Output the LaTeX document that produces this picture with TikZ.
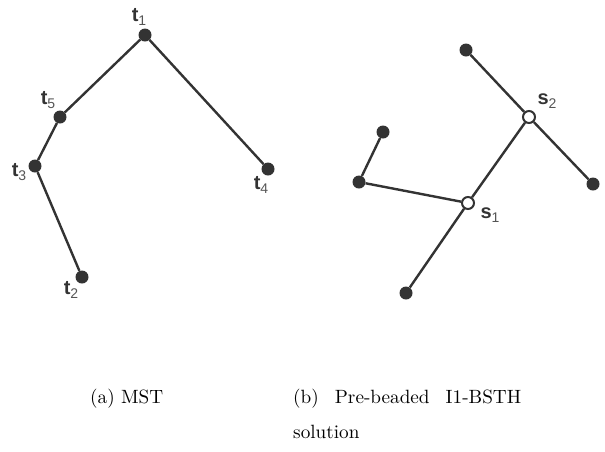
\documentclass[tikz,border=0pt]{standalone}
\usepackage{fontspec}
\usepackage{graphicx}
\setsansfont{Liberation Sans}
\definecolor{ink}{HTML}{333333}
\definecolor{sub}{HTML}{555555}
\newcommand\mylab[2]{{\sffamily\fontsize{20}{20}\selectfont\bfseries\color{ink}#1}{\sffamily\fontsize{14}{14}\selectfont\color{sub}\raisebox{-4pt}{#2}}}
\tikzset{
  dotnode/.style={circle,fill=ink,minimum size=13pt,inner sep=0pt},
  hollownode/.style={circle,draw=ink,line width=2pt,fill=white,minimum size=12pt,inner sep=0pt},
  conn/.style={draw=ink,line width=2.4pt},
  labtxt/.style={inner sep=0pt},
  captxt/.style={inner sep=0pt,anchor=base west}
}
\begin{document}
\begin{tikzpicture}[x=1pt,y=-1pt]
\useasboundingbox (0,0) rectangle (605,451);
% (a) MST
\node[dotnode] (t1) at (145,35) {};
\node[dotnode] (t5) at (60,117) {};
\node[dotnode] (t3) at (35,166) {};
\node[dotnode] (t2) at (82,277) {};
\node[dotnode] (t4) at (268,169) {};
\draw[conn] (t1) -- (t5);
\draw[conn] (t5) -- (t3);
\draw[conn] (t3) -- (t2);
\draw[conn] (t1) -- (t4);
\node[labtxt] (lt1) at (139,17) {\mylab{t}{1}};
\node[labtxt] (lt5) at (48,100) {\mylab{t}{5}};
\node[labtxt] (lt3) at (19,172) {\mylab{t}{3}};
\node[labtxt] (lt4) at (261,185) {\mylab{t}{4}};
\node[labtxt] (lt2) at (71,290) {\mylab{t}{2}};
% (b) pre-beaded
\node[dotnode] (r1) at (466,50) {};
\node[hollownode] (s2) at (529,117) {};
\node[dotnode] (r2) at (593,184) {};
\node[hollownode] (s1) at (468,203) {};
\node[dotnode] (r3) at (359,182) {};
\node[dotnode] (r4) at (383,132) {};
\node[dotnode] (r5) at (406,293) {};
\draw[conn] (r1) -- (s2);
\draw[conn] (s2) -- (r2);
\draw[conn] (s2) -- (s1);
\draw[conn] (s1) -- (r3);
\draw[conn] (r3) -- (r4);
\draw[conn] (s1) -- (r5);
\node[labtxt] (ls2) at (547,101) {\mylab{s}{2}};
\node[labtxt] (ls1) at (490,215) {\mylab{s}{1}};
% captions
\node[captxt] (capa) at (90,403) {\scalebox{1.92}{(a) MST}};
\node[captxt] (capb1) at (293,403) {\scalebox{1.92}{\makebox[118.75pt][s]{(b)\hfill Pre-beaded\hfill I1-BSTH}}};
\node[captxt] (capb2) at (293,438) {\scalebox{1.92}{solution}};
\end{tikzpicture}
\end{document}
